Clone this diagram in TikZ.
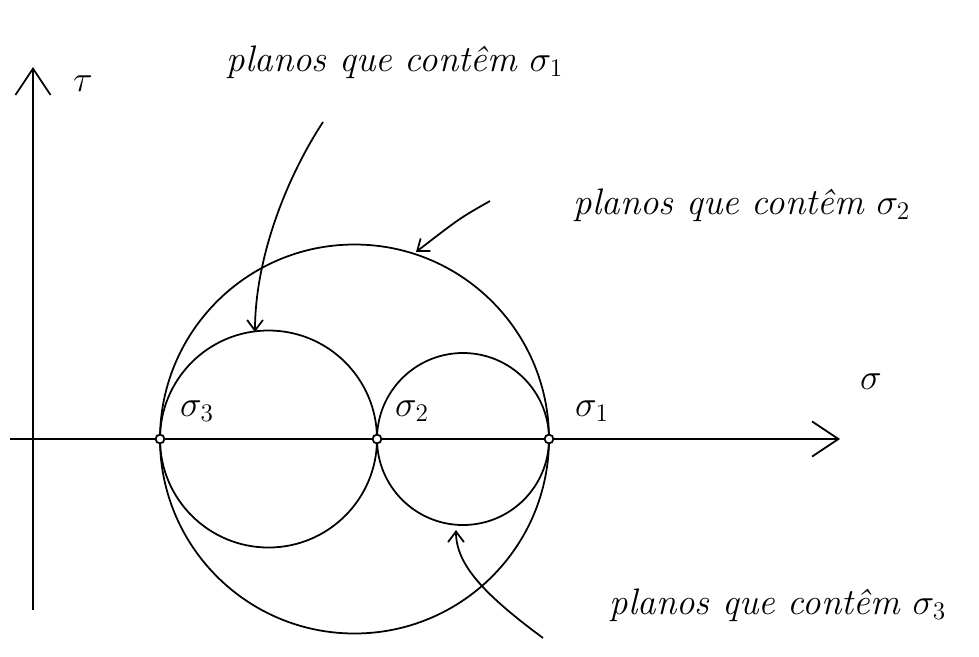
\documentclass[tikz,border=0pt]{standalone}
\usepackage{amsmath}
\usetikzlibrary{arrows.meta,positioning}
\begin{document}
\begin{tikzpicture}[x=0.02cm,y=-0.02cm,line width=1pt,
  every node/.style={font=\fontsize{21}{25}\selectfont\itshape},
  pt/.style={circle,draw,fill=white,inner sep=0pt,minimum size=5pt},
  axtip/.style={-{Straight Barb[length=15pt,width=20pt]}},
  tip/.style={-{Straight Barb[length=6pt,width=9pt]}}]
  \useasboundingbox (0,0) rectangle (979,656);
  % axes
  \draw[axtip] (10,439) -- (840,439) coordinate (xend);
  \draw[axtip] (33,610) -- (33,67) coordinate (yend);
  \node at (871,382) {$\sigma$};
  \node at (83,84) {$\tau$};
  % circles
  \draw (354.5,439) circle[radius=194.5];
  \draw (268.5,439) circle[radius=108.5];
  \draw (463,439) circle[radius=86];
  \foreach \n/\x in {s3/160,s2/377,s1/549} \node[pt] (\n) at (\x,439) {};
  \node at (197,411) {$\sigma_3$};
  \node at (412,411) {$\sigma_2$};
  \node at (592,411) {$\sigma_1$};
  % labels
  \node (t1) at (395,62) {planos que contêm $\sigma_1$};
  \node (t2) at (742,205) {planos que contêm $\sigma_2$};
  \node (t3) at (778,605) {planos que contêm $\sigma_3$};
  \coordinate (a1) at (323,122);
  \coordinate (b1) at (255,332);
  \coordinate (a2) at (490,201);
  \coordinate (b2) at (416,252);
  \coordinate (a3) at (543,638);
  \coordinate (b3) at (456,530);
  \draw[tip] (a1) .. controls (285,180) and (255,260) .. (b1);
  \draw[tip] (a2) .. controls (460,218) .. (b2);
  \draw[tip] (a3) .. controls (485,595) and (456,565) .. (b3);
\end{tikzpicture}
\end{document}
